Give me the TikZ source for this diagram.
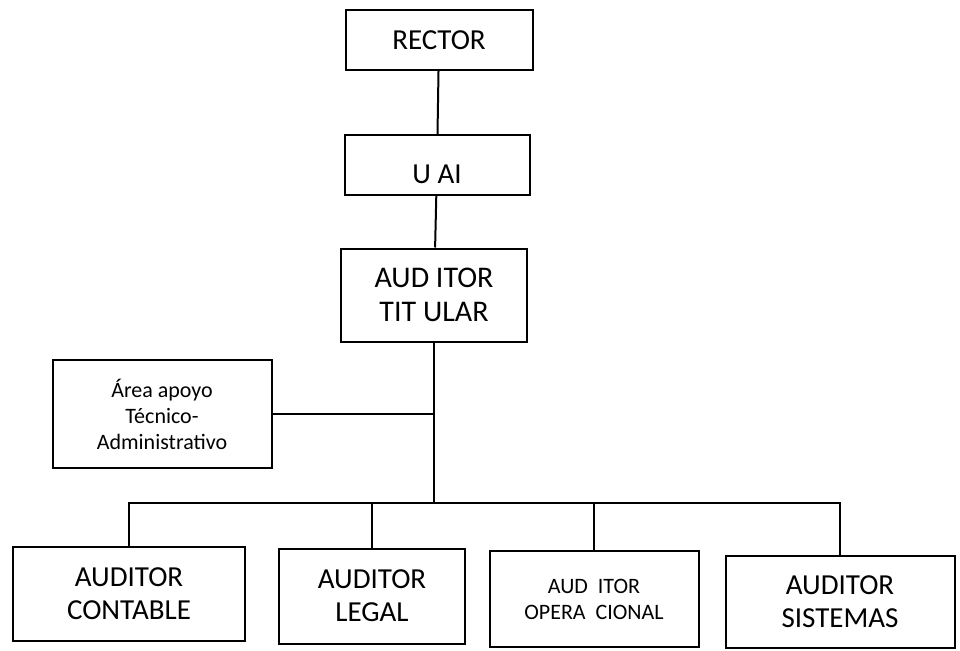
\documentclass[tikz,border=0pt]{standalone}
\usepackage{fontspec}
\setmainfont{Carlito}
\usetikzlibrary{positioning}

\begin{document}
\begin{tikzpicture}[
  x=1pt, y=-1pt,
  box/.style={rectangle, draw, line width=2pt, align=center, inner sep=0pt, font=\fontsize{29}{33}\selectfont},
  link/.style={line width=2pt},
]
\useasboundingbox (0,0) rectangle (960,650);

% Upper chain
\node[box, minimum width=187pt, minimum height=60pt] (rector) at (439,40) {RECTOR};
\node[box, minimum width=185pt, minimum height=60pt, text height=36pt, text depth=0pt] (uai) at (437,165) {U AI};
\node[box, minimum width=186pt, minimum height=93pt, font=\fontsize{30}{34}\selectfont] (titular) at (434,295) {AUD ITOR\\TIT ULAR};

% Staff unit
\node[box, minimum width=219pt, minimum height=108pt, font=\fontsize{22}{26}\selectfont] (apoyo) at (162,414) {Área apoyo\\Técnico-\\Administrativo};

% Auditors
\node[box, minimum width=232pt, minimum height=94pt] (contable) at (129,594) {AUDITOR\\CONTABLE};
\node[box, minimum width=186pt, minimum height=95pt] (legal) at (372,596) {AUDITOR\\LEGAL};
\node[box, minimum width=209pt, minimum height=96pt, font=\fontsize{22}{26}\selectfont] (opcional) at (594,599) {AUD\ \ ITOR\\OPERA\ \ CIONAL};
\node[box, minimum width=229pt, minimum height=92pt] (sistemas) at (840,602) {AUDITOR\\SISTEMAS};

% Connectors
\coordinate (bus) at (434,503);
\draw[link] (rector) -- (uai);
\draw[link] (uai) -- (titular);
\draw[link] (titular) -- (bus);
\draw[link] (apoyo.east) -- (apoyo.east -| bus);
\draw[link] (contable.north) |- (bus) -| (sistemas.north);
\foreach \n in {legal, opcional}
  \draw[link] (\n.north) -- (\n.north |- bus);

\end{tikzpicture}
\end{document}
